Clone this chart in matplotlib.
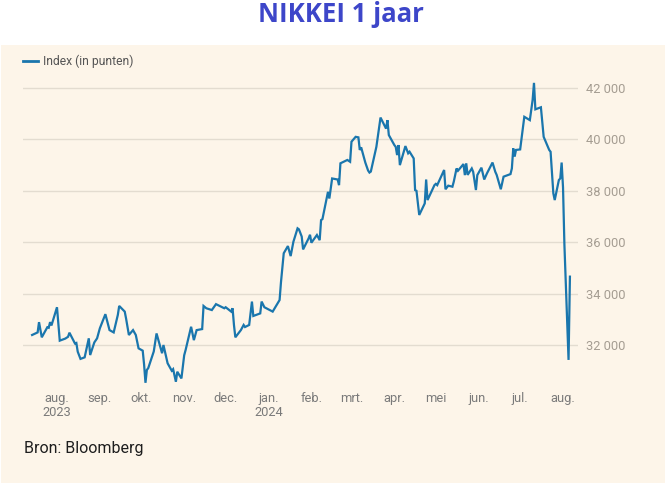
import datetime as dt
import matplotlib
matplotlib.use("Agg")
import matplotlib.pyplot as plt
import matplotlib.dates as mdates
from matplotlib.patches import Rectangle

# slotkoersen Nikkei 225
dates = [
    "2023-07-14", "2023-07-18", "2023-07-19", "2023-07-21", "2023-07-25", "2023-07-26",
    "2023-07-27", "2023-07-28", "2023-08-01", "2023-08-03", "2023-08-07", "2023-08-09",
    "2023-08-10", "2023-08-14", "2023-08-15", "2023-08-16", "2023-08-18", "2023-08-21",
    "2023-08-24", "2023-08-25", "2023-08-28", "2023-08-30", "2023-09-01", "2023-09-05",
    "2023-09-08", "2023-09-11", "2023-09-14", "2023-09-15", "2023-09-19", "2023-09-20",
    "2023-09-22", "2023-09-25", "2023-09-27", "2023-09-29", "2023-10-02", "2023-10-03",
    "2023-10-04", "2023-10-05", "2023-10-06", "2023-10-10", "2023-10-12", "2023-10-16",
    "2023-10-17", "2023-10-20", "2023-10-23", "2023-10-24", "2023-10-26", "2023-10-27",
    "2023-10-30", "2023-11-01", "2023-11-02", "2023-11-06", "2023-11-08", "2023-11-10",
    "2023-11-14", "2023-11-15", "2023-11-17", "2023-11-21", "2023-11-24", "2023-11-30",
    "2023-12-01", "2023-12-05", "2023-12-06", "2023-12-07", "2023-12-08", "2023-12-12",
    "2023-12-14", "2023-12-15", "2023-12-18", "2023-12-20", "2023-12-21", "2023-12-26",
    "2023-12-27", "2023-12-29", "2024-01-04", "2024-01-09", "2024-01-10", "2024-01-12",
    "2024-01-15", "2024-01-17", "2024-01-19", "2024-01-22", "2024-01-23", "2024-01-25",
    "2024-01-26", "2024-01-30", "2024-01-31", "2024-02-01", "2024-02-05", "2024-02-07",
    "2024-02-08", "2024-02-09", "2024-02-13", "2024-02-14", "2024-02-16", "2024-02-20",
    "2024-02-21", "2024-02-22", "2024-02-27", "2024-02-29", "2024-03-01", "2024-03-04",
    "2024-03-06", "2024-03-07", "2024-03-08", "2024-03-11", "2024-03-13", "2024-03-14",
    "2024-03-15", "2024-03-19", "2024-03-22", "2024-03-26", "2024-03-27", "2024-03-28",
    "2024-04-01", "2024-04-02", "2024-04-03", "2024-04-04", "2024-04-05", "2024-04-09",
    "2024-04-11", "2024-04-12", "2024-04-15", "2024-04-16", "2024-04-17", "2024-04-19",
    "2024-04-23", "2024-04-24", "2024-04-25", "2024-04-30", "2024-05-01", "2024-05-02",
    "2024-05-07", "2024-05-08", "2024-05-10", "2024-05-13", "2024-05-14", "2024-05-16",
    "2024-05-17", "2024-05-21", "2024-05-22", "2024-05-23", "2024-05-24", "2024-05-27",
    "2024-05-28", "2024-05-30", "2024-05-31", "2024-06-03", "2024-06-05", "2024-06-07",
    "2024-06-11", "2024-06-13", "2024-06-14", "2024-06-17", "2024-06-19", "2024-06-24",
    "2024-06-25", "2024-06-26", "2024-06-27", "2024-06-28", "2024-07-01", "2024-07-04",
    "2024-07-08", "2024-07-10", "2024-07-11", "2024-07-12", "2024-07-16", "2024-07-18",
    "2024-07-22", "2024-07-23", "2024-07-25", "2024-07-26", "2024-07-29", "2024-07-30",
    "2024-07-31", "2024-08-01", "2024-08-02", "2024-08-05", "2024-08-06",
]
index_points = [
    32390, 32490, 32890, 32300, 32690, 32670,
    32890, 32760, 33470, 32170, 32250, 32320,
    32480, 32060, 32080, 31740, 31460, 31520,
    32260, 31610, 32100, 32260, 32650, 33200,
    32580, 32490, 33170, 33520, 33300, 33020,
    32390, 32580, 32390, 31870, 31780, 31240,
    30530, 31030, 31100, 31750, 32450, 31680,
    32000, 31290, 31000, 31060, 30570, 30960,
    30700, 31600, 31800, 32710, 32190, 32580,
    32620, 33520, 33430, 33360, 33590, 33430,
    33470, 33300, 33430, 32780, 32300, 32580,
    32780, 32700, 32780, 33690, 33130, 33230,
    33690, 33470, 33300, 33750, 34440, 35570,
    35850, 35460, 36020, 36540, 36500, 36220,
    35720, 36150, 36290, 35980, 36280, 36080,
    36860, 36900, 37960, 37700, 38480, 38440,
    38220, 39070, 39200, 39130, 39910, 40100,
    40080, 39590, 39690, 39100, 38790, 38710,
    38750, 39710, 40850, 40420, 40750, 40170,
    39780, 39710, 39390, 39780, 39000, 39740,
    39460, 39520, 39260, 38030, 38000, 37060,
    37510, 38440, 37640, 38220, 38270, 38220,
    38810, 38060, 38200, 38160, 38360, 38870,
    38780, 39040, 38610, 39070, 38620, 38870,
    38740, 38030, 38610, 38900, 38440, 38680,
    39100, 38740, 38620, 38060, 38550, 38650,
    38870, 39650, 39330, 39590, 39610, 40880,
    40750, 41530, 42200, 41170, 41250, 40100,
    39590, 39520, 37900, 37640, 38420, 38480,
    39100, 38130, 35910, 31420, 34660,
]

month_ticks = ["2023-08-01", "2023-09-01", "2023-10-01", "2023-11-01", "2023-12-01",
               "2024-01-01", "2024-02-01", "2024-03-01", "2024-04-01", "2024-05-01",
               "2024-06-01", "2024-07-01", "2024-08-01"]
month_labels = ["aug.\n2023", "sep.", "okt.", "nov.", "dec.", "jan.\n2024", "feb.",
                "mrt.", "apr.", "mei", "jun.", "jul.", "aug."]
y_ticks = [32000, 34000, 36000, 38000, 40000, 42000]
y_labels = ["32 000", "34 000", "36 000", "38 000", "40 000", "42 000"]

cream = "#fdf5e9"
blue = "#1a76ad"

W, H = 665, 486
fig = plt.figure(figsize=(W / 100, H / 100), dpi=100, facecolor="white")

# cream panel behind the chart
fig.patches.append(Rectangle((1 / W, 1 - 483 / H), 664 / W, 438 / H,
                             transform=fig.transFigure, facecolor=cream,
                             edgecolor="none", zorder=-10))

ax = fig.add_axes([23 / W, 1 - 385 / H, (578 - 23) / W, (385 - 75) / H])
ax.set_facecolor("none")
ax.set_zorder(1)

x = [dt.datetime.strptime(d, "%Y-%m-%d") for d in dates]
ax.plot(x, index_points, color=blue, lw=1.6, solid_joinstyle="miter", zorder=3)

ax.set_xlim(mdates.date2num(dt.datetime(2023, 7, 7, 10)),
            mdates.date2num(dt.datetime(2024, 8, 11, 20)))
ax.set_ylim(30444, 42506)

ax.set_xticks([dt.datetime.strptime(d, "%Y-%m-%d") for d in month_ticks])
ax.set_xticklabels(month_labels, fontsize=9.3, color="#7a7a7a", family="Roboto",
                   linespacing=1.1)
ax.set_yticks(y_ticks)
ax.set_yticklabels(y_labels, fontsize=9.3, color="#a59d92", family="Roboto")
ax.yaxis.tick_right()
ax.tick_params(axis="both", length=0)
ax.tick_params(axis="x", pad=5)
ax.tick_params(axis="y", pad=6)
ax.grid(axis="y", color="#e3dcd0", lw=1)
ax.set_axisbelow(True)
for s in ax.spines.values():
    s.set_visible(False)

# legend
fig.add_artist(plt.Line2D([23 / W, 38 / W], [1 - 61 / H, 1 - 61 / H],
                          color=blue, lw=2, transform=fig.transFigure))
fig.text(43 / W, 1 - 61 / H, "Index (in punten)", fontsize=8.7, color="#555555",
         family="Roboto", va="center", ha="left")

fig.text(341 / W, 1 - 15 / H, "NIKKEI 1 jaar", fontsize=18.5, fontweight="bold",
         color="#3d46c9", family="Open Sans", ha="center", va="center")
fig.text(24 / W, 1 - 448 / H, "Bron: Bloomberg", fontsize=11.5, color="#1e1e1e",
         family="Roboto", ha="left", va="center")

fig.savefig("out.png", dpi=100)
